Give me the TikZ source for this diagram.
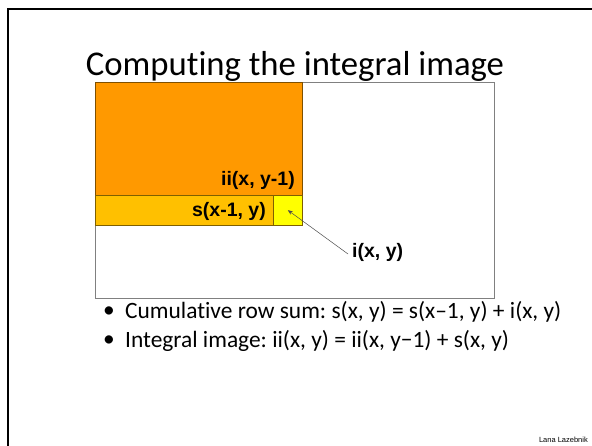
\documentclass[tikz,border=0pt]{standalone}
\usepackage{fontspec}
\setmainfont[Ligatures=NoCommon]{Carlito}
\newfontfamily\arialf{Liberation Sans}
\usetikzlibrary{arrows.meta}
\frenchspacing
\definecolor{orangeA}{HTML}{FF9900}
\definecolor{orangeB}{HTML}{FFC000}
\definecolor{yellowA}{HTML}{FFFF00}
\definecolor{edgeA}{HTML}{7F5000}
\definecolor{edgeB}{HTML}{7F6000}
\definecolor{frameg}{HTML}{808080}
\tikzset{
  box/.style={draw, rectangle, inner sep=0pt, outer sep=0pt, line width=0.9pt},
  lbl/.style={font=\arialf\bfseries\fontsize{19.5}{22}\selectfont, inner sep=1pt},
  bullettext/.style={font=\fontsize{23.4}{27}\selectfont, anchor=west, inner sep=0pt},
}
\begin{document}
\begin{tikzpicture}[x=1pt,y=-1pt]
\useasboundingbox (0,0) rectangle (592,446);
% slide frame
\draw[line width=2.5pt, line cap=rect] (8,446) -- (8,9) -- (592,9);
% title
\node[font=\fontsize{34.7}{40}\selectfont, inner sep=0pt, anchor=base] (title) at (295,76) {Computing the integral image};
% image rectangle
\node[box, draw=frameg, fill=white, minimum width=399, minimum height=216.5, anchor=north west] (img) at (95,82.3) {};
\node[box, draw=edgeA, fill=orangeA, minimum width=207.3, minimum height=113, anchor=north west] (ii) at (95,82.3) {};
\node[box, draw=edgeB, fill=orangeB, minimum width=178.3, minimum height=29.7, anchor=north west] (srow) at (95,195.3) {};
\node[box, draw=edgeB, fill=yellowA, minimum width=29, minimum height=29.7, anchor=north west] (cell) at (273.3,195.3) {};
% labels
\node[lbl, anchor=east] (iilbl) at (296,180) {ii(x, y-1)};
\node[lbl, anchor=east] (slbl) at (267,211) {s(x-1, y)};
\node[lbl, anchor=west] (ilbl) at (351,252) {i(x, y)};
\coordinate (astart) at ([xshift=-3pt,yshift=-2pt]ilbl.west);
\draw[draw=black!70, line width=0.5pt, -{Stealth[length=5pt,width=4pt]}] (astart) -- (cell.center);
% bullets
\node[font=\fontsize{23.4}{27}\selectfont, inner sep=0pt] (b1) at (109,312) {•};
\node[bullettext] (t1) at (125,312) {Cumulative row sum: s(x, y) = s(x–1, y) + i(x, y)};
\node[font=\fontsize{23.4}{27}\selectfont, inner sep=0pt] (b2) at (109,341) {•};
\node[bullettext] (t2) at (125,341) {Integral image: ii(x, y) = ii(x, y−1) + s(x, y)};
% credit
\node[font=\arialf\fontsize{7.5}{9}\selectfont, anchor=east, inner sep=0pt] (credit) at (588,440) {Lana Lazebnik};
\end{tikzpicture}
\end{document}
